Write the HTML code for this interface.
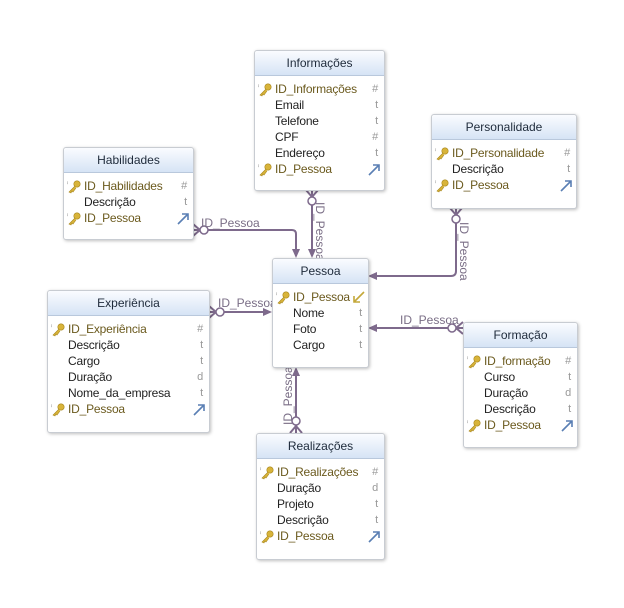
<!DOCTYPE html>
<html><head><meta charset="utf-8"><style>
body{margin:0;width:624px;height:608px;background:#fff;position:relative;font-family:"Liberation Sans","DejaVu Sans",sans-serif;overflow:hidden}
.b{position:absolute;box-sizing:border-box;background:#fff;border:1px solid #c8ccd2;border-radius:3px;box-shadow:1px 1px 3px rgba(0,0,0,.25)}
.h{height:24px;line-height:24px;text-align:center;font-size:12px;color:#1e2a3a;background:linear-gradient(#fafcff,#d6e4f5);border-bottom:1px solid #b9c8dc;border-radius:3px 3px 0 0}
.rows{padding-top:5px}
.r{height:16px;line-height:16px;font-size:12px;color:#222;position:relative;padding-left:20px;white-space:nowrap;letter-spacing:-0.2px}
.r.k{color:#6b5a1e}
.r i{position:absolute;right:6px;top:0;font-style:normal;color:#999;font-size:11px}
.r svg.key{position:absolute;left:3px;top:2px}
.r svg.ar{position:absolute;right:3px;top:2px}
svg.ov{position:absolute;left:0;top:0}
</style></head><body>
<svg class="ov" width="624" height="608">
<g stroke="#7e6a8c" stroke-width="2" fill="none">
<path d="M193 230 H292 Q296 230 296 234 V256"/>
<path d="M312 190 V256"/>
<path d="M456 208 V271 Q456 276 451 276 H370"/>
<path d="M209 312 H270"/>
<path d="M463 328 H370"/>
<path d="M296 433 V369"/>
<path d="M193 224 L200 230 L193 236"/>
<path d="M306 190 L312 197 L318 190"/>
<path d="M450 208 L456 215 L462 208"/>
<path d="M209 306 L216 312 L209 318"/>
<path d="M463 322 L456 328 L463 334"/>
<path d="M290 433 L296 426 L302 433"/>
</g>
<g fill="#fff" stroke="#7e6a8c" stroke-width="1.5">
<circle cx="204" cy="230" r="4"/><circle cx="312" cy="201" r="4"/><circle cx="456" cy="219" r="4"/>
<circle cx="220" cy="312" r="4"/><circle cx="452" cy="328" r="4"/><circle cx="296" cy="421" r="4"/>
</g>
<g fill="#7e6a8c">
<path d="M296 258 L292 249 L300 249Z"/>
<path d="M312 258 L308 249 L316 249Z"/>
<path d="M368 276 L377 272 L377 280Z"/>
<path d="M272 312 L263 308 L263 316Z"/>
<path d="M368 328 L377 324 L377 332Z"/>
<path d="M296 367 L292 376 L300 376Z"/>
</g>
<g fill="#7a6e86" font-size="12" font-family="Liberation Sans,sans-serif">
<text x="201" y="227">ID_Pessoa</text>
<text x="218" y="307">ID_Pessoa</text>
<text x="400" y="324">ID_Pessoa</text>
<text transform="translate(316,202) rotate(90)">ID_Pessoa</text>
<text transform="translate(460,222) rotate(90)">ID_Pessoa</text>
<text transform="translate(292,425) rotate(-90)">ID_Pessoa</text>
</g>
</svg>

<svg width="0" height="0" style="position:absolute"><defs>
<g id="key"><circle cx="10" cy="4" r="3.2" fill="#d8b43a" stroke="#a8861c" stroke-width=".6"/><path d="M8 6 L2 12 L4 13 L5 11 L6 12 L9 8" fill="#d8b43a" stroke="#a8861c" stroke-width=".6"/><text x="-2" y="5" font-size="6" fill="#888">×</text></g>
<g id="arr"><path d="M1 12 L11 2 M5 2 H11 V8" stroke="#5a7fb4" stroke-width="1.6" fill="none"/></g>
</defs></svg>

<div class="b" style="left:254px;top:50px;width:131px;height:141px">
<div class="h">Informações</div><div class="rows">
<div class="r k"><svg class="key" width="14" height="14"><use href="#key"/></svg>ID_Informações<i>#</i></div>
<div class="r">Email<i>t</i></div>
<div class="r">Telefone<i>t</i></div>
<div class="r">CPF<i>#</i></div>
<div class="r">Endereço<i>t</i></div>
<div class="r k"><svg class="key" width="14" height="14"><use href="#key"/></svg>ID_Pessoa<svg class="ar" width="13" height="13"><use href="#arr"/></svg></div>
</div></div>

<div class="b" style="left:63px;top:147px;width:131px;height:93px">
<div class="h">Habilidades</div><div class="rows">
<div class="r k"><svg class="key" width="14" height="14"><use href="#key"/></svg>ID_Habilidades<i>#</i></div>
<div class="r">Descrição<i>t</i></div>
<div class="r k"><svg class="key" width="14" height="14"><use href="#key"/></svg>ID_Pessoa<svg class="ar" width="13" height="13"><use href="#arr"/></svg></div>
</div></div>

<div class="b" style="left:431px;top:114px;width:146px;height:95px">
<div class="h">Personalidade</div><div class="rows">
<div class="r k"><svg class="key" width="14" height="14"><use href="#key"/></svg>ID_Personalidade<i>#</i></div>
<div class="r">Descrição<i>t</i></div>
<div class="r k"><svg class="key" width="14" height="14"><use href="#key"/></svg>ID_Pessoa<svg class="ar" width="13" height="13"><use href="#arr"/></svg></div>
</div></div>

<div class="b" style="left:272px;top:258px;width:97px;height:110px">
<div class="h">Pessoa</div><div class="rows">
<div class="r k"><svg class="key" width="14" height="14"><use href="#key"/></svg>ID_Pessoa<svg class="ar" width="13" height="13" style="transform:rotate(180deg)"><path d="M1 12 L11 2 M5 2 H11 V8" stroke="#c4a83a" stroke-width="1.6" fill="none"/></svg></div>
<div class="r">Nome<i>t</i></div>
<div class="r">Foto<i>t</i></div>
<div class="r">Cargo<i>t</i></div>
</div></div>

<div class="b" style="left:47px;top:290px;width:163px;height:143px">
<div class="h">Experiência</div><div class="rows">
<div class="r k"><svg class="key" width="14" height="14"><use href="#key"/></svg>ID_Experiência<i>#</i></div>
<div class="r">Descrição<i>t</i></div>
<div class="r">Cargo<i>t</i></div>
<div class="r">Duração<i>d</i></div>
<div class="r">Nome_da_empresa<i>t</i></div>
<div class="r k"><svg class="key" width="14" height="14"><use href="#key"/></svg>ID_Pessoa<svg class="ar" width="13" height="13"><use href="#arr"/></svg></div>
</div></div>

<div class="b" style="left:463px;top:322px;width:115px;height:126px">
<div class="h">Formação</div><div class="rows">
<div class="r k"><svg class="key" width="14" height="14"><use href="#key"/></svg>ID_formação<i>#</i></div>
<div class="r">Curso<i>t</i></div>
<div class="r">Duração<i>d</i></div>
<div class="r">Descrição<i>t</i></div>
<div class="r k"><svg class="key" width="14" height="14"><use href="#key"/></svg>ID_Pessoa<svg class="ar" width="13" height="13"><use href="#arr"/></svg></div>
</div></div>

<div class="b" style="left:256px;top:433px;width:129px;height:127px">
<div class="h">Realizações</div><div class="rows">
<div class="r k"><svg class="key" width="14" height="14"><use href="#key"/></svg>ID_Realizações<i>#</i></div>
<div class="r">Duração<i>d</i></div>
<div class="r">Projeto<i>t</i></div>
<div class="r">Descrição<i>t</i></div>
<div class="r k"><svg class="key" width="14" height="14"><use href="#key"/></svg>ID_Pessoa<svg class="ar" width="13" height="13"><use href="#arr"/></svg></div>
</div></div>
</body></html>
